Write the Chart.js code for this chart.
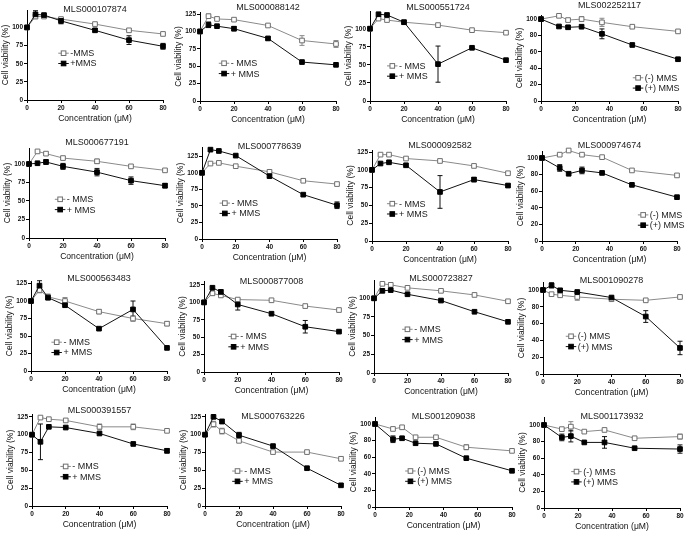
<!DOCTYPE html>
<html>
<head>
<meta charset="utf-8">
<script src="https://cdn.jsdelivr.net/npm/chart.js@4.4.1/dist/chart.umd.min.js"></script>
<style>
html, body { margin: 0; padding: 0; background: #fff; overflow: hidden; }
#wrap { position: relative; width: 687px; height: 535px; overflow: hidden; background: #fff; }
#wrap canvas { position: absolute; }
</style>
</head>
<body>
<div id="wrap"></div>
<script>
// compound names, one per panel (row by row)
const titles = [
  'MLS000107874', 'MLS000088142', 'MLS000551724', 'MLS002252117',
  'MLS000677191', 'MLS000778639', 'MLS000092582', 'MLS000974674',
  'MLS000563483', 'MLS000877008', 'MLS000723827', 'MLS001090278',
  'MLS000391557', 'MLS000763226', 'MLS001209038', 'MLS001173932'
];

// concentrations (uM)
const concA = [0, 5, 10, 20, 40, 60, 80];
const concB = [0, 10.5, 15.8, 23.7, 35.6, 53.3, 80];
const panelConc = [concA, concA, concA, concB, concA, concA, concA, concB,
                   concA, concA, concA, concA, concA, concA, concB, concB];

const xTicks = [0, 20, 40, 60, 80];
const yTicks25 = [0, 25, 50, 75, 100, 125];
const yTicks20 = [0, 20, 40, 60, 80, 100];
const yMax = [124, 128, 124.5, 105, 121.6, 139, 128, 108.4,
              128.6, 130.7, 124.5, 109.5, 129, 129, 108.4, 109.6];

const legendSets = [['-MMS', '+MMS'], ['- MMS', '+ MMS'], ['(-) MMS', '(+) MMS']];
const legendKind = [0, 1, 1, 2, 1, 1, 1, 2, 1, 1, 1, 2, 1, 1, 2, 2];

// cell viability (%) without MMS
const minusMMS = [
  [100, 115, 115, 111.5, 104.6, 96, 91],
  [100, 122, 118, 117, 108.6, 87, 82],
  [100, 114, 112, 109, 105, 98, 94.5],
  [100, 104, 98.8, 100, 96, 90.7, 85],
  [100, 117, 114, 108, 103.6, 96.8, 91.4],
  [100, 114, 115, 110, 101.5, 88, 83],
  [100, 121.5, 121.5, 116, 112.6, 105.6, 95.3],
  [100, 104, 109, 104, 101, 85, 79],
  [100, 115.7, 106, 100, 84.8, 75, 67.6],
  [100, 113, 110, 104, 103, 94.7, 89],
  [100, 119.4, 118, 114, 110, 104.5, 96],
  [100, 95, 93.7, 91.7, 89, 87.7, 91.7],
  [100, 124, 121.7, 120, 111, 111, 105.4],
  [100, 114.7, 105, 91.4, 75.6, 75.6, 66.2],
  [100, 94, 96, 84, 84, 72, 67.6],
  [100, 95, 98, 92, 94, 84, 86]
];
const minusErr = [
  [0, 3, 2, 1, 1, 1, 1],
  [0, 3, 0, 0, 0, 7, 5],
  [0, 0, 0, 0, 0, 0, 0],
  [0, 0, 2, 3, 5, 0, 0],
  [0, 0, 2, 2, 3, 0, 1],
  [0, 0, 0, 0, 0, 0, 0],
  [0, 0, 0, 0, 0, 0, 0],
  [0, 0, 0, 0, 0, 0, 0],
  [0, 4, 4, 5, 3, 4, 3],
  [0, 3, 0, 0, 0, 0, 0],
  [0, 0, 0, 0, 0, 0, 0],
  [0, 0, 0, 4, 0, 0, 0],
  [0, 0, 0, 0, 4, 4, 0],
  [0, 4, 4, 0, 0, 0, 0],
  [0, 0, 0, 0, 0, 3, 0],
  [0, 0, 6, 0, 0, 0, 3]
];

// cell viability (%) with MMS
const plusMMS = [
  [100, 118, 117, 109, 96, 82.5, 74],
  [100, 109.6, 107.6, 104, 90, 56, 52],
  [100, 120, 119, 109, 51, 73.6, 56.5],
  [100, 91, 90, 90.7, 82, 68.4, 51],
  [100, 101, 102.7, 96.8, 89, 77.5, 70.7],
  [100, 135, 133, 126, 95, 67, 51],
  [100, 109, 110.7, 106.5, 69, 86.4, 78],
  [100, 88, 81, 85, 82, 67.6, 52.8],
  [100, 122, 104.8, 94, 60.5, 88, 33],
  [100, 121, 115, 97, 83.7, 65, 58],
  [100, 110, 111, 105.4, 97, 82, 68.5],
  [100, 105.5, 99.6, 97.6, 91, 68.4, 31],
  [100, 90, 111, 110, 101.7, 87, 77.4],
  [100, 125, 118.5, 99.3, 84, 53, 29],
  [100, 81.6, 82.8, 76.8, 76, 58.8, 43.6],
  [100, 85, 86.6, 79, 79, 72, 71]
];
const plusErr = [
  [0, 5, 2, 4, 2, 6, 4],
  [0, 4, 0, 3, 2, 0, 0],
  [0, 0, 0, 0, 25, 0, 0],
  [0, 0, 2, 0, 6, 0, 2],
  [0, 0, 3, 4, 5, 5, 3],
  [0, 0, 0, 0, 2, 0, 5],
  [0, 0, 0, 0, 23, 3, 2],
  [0, 4, 0, 4, 0, 0, 0],
  [0, 7, 3, 0, 0, 12, 0],
  [0, 0, 3, 8, 0, 9, 0],
  [0, 0, 0, 0, 0, 0, 0],
  [0, 3, 0, 0, 0, 7, 8],
  [0, 25, 0, 0, 0, 0, 3],
  [0, 0, 3, 4, 0, 0, 0],
  [0, 4, 0, 0, 0, 0, 0],
  [0, 4, 7, 0, 7, 0, 5]
];

// page layout: plot box [left, right, top, bottom], title y, legend spot (fraction of plot)
const boxes = [
  [27, 163, 10, 100], [200, 336, 12, 101], [370, 506, 11, 101], [541, 678, 15, 101],
  [29, 165, 148, 238], [202, 337, 147, 239], [372, 508, 150, 241], [542, 677, 151, 241],
  [31, 167, 281, 371], [204, 339, 281, 372], [374, 508, 280, 373], [543, 680, 282, 374],
  [32, 167, 414, 506], [205, 341, 414, 506], [375, 512, 417, 507], [544, 680, 417, 508]
];
const titleY = [9.3, 7.5, 8, 6, 143, 147, 146, 146, 279, 282, 279, 281, 411, 416.7, 416.7, 416.7];
const legendPos = [
  [0.23, 0.48], [0.138, 0.576], [0.125, 0.61], [0.67, 0.73],
  [0.19, 0.57], [0.13, 0.61], [0.11, 0.59], [0.71, 0.71],
  [0.15, 0.68], [0.18, 0.61], [0.21, 0.53], [0.166, 0.59],
  [0.21, 0.57], [0.2, 0.62], [0.22, 0.6], [0.2, 0.6]
];

const FONT = '"Liberation Sans", Arial, sans-serif';
const AXW = 26, AXH = 24, PADR = 8, PADB = 2;

// error bars, panel title and the small legend inside the plot
const panelDecor = {
  id: 'panelDecor',
  beforeDatasetsDraw(chart) {
    const ctx = chart.ctx, ys = chart.scales.y;
    chart.data.datasets.forEach((ds, i) => {
      const meta = chart.getDatasetMeta(i);
      ctx.save();
      ctx.strokeStyle = ds.borderColor;
      ctx.lineWidth = 1;
      ds.errors.forEach((e, j) => {
        if (!e) return;
        const x = meta.data[j].x, v = ds.data[j].y;
        const y1 = ys.getPixelForValue(v + e), y2 = ys.getPixelForValue(v - e);
        ctx.beginPath();
        ctx.moveTo(x, y1); ctx.lineTo(x, y2);
        ctx.moveTo(x - 2.5, y1); ctx.lineTo(x + 2.5, y1);
        ctx.moveTo(x - 2.5, y2); ctx.lineTo(x + 2.5, y2);
        ctx.stroke();
      });
      ctx.restore();
    });
  },
  afterDraw(chart, args, o) {
    const ctx = chart.ctx, ca = chart.chartArea;
    ctx.save();
    ctx.fillStyle = '#1a1a1a';
    ctx.font = '9px ' + FONT;
    ctx.textAlign = 'center';
    ctx.textBaseline = 'middle';
    ctx.fillText(o.title, (ca.left + ca.right) / 2, o.titleY);

    const lx = ca.left + o.legX * (ca.right - ca.left);
    const ly = ca.top + o.legY * (ca.bottom - ca.top);
    ctx.textAlign = 'left';
    chart.data.datasets.forEach((ds, i) => {
      const y = ly + i * 10.3;
      ctx.strokeStyle = ds.borderColor;
      ctx.lineWidth = 1;
      ctx.beginPath();
      ctx.moveTo(lx, y); ctx.lineTo(lx + 10.5, y);
      ctx.stroke();
      ctx.fillStyle = ds.pointBackgroundColor;
      ctx.strokeStyle = ds.pointBorderColor;
      ctx.fillRect(lx + 3, y - 2.3, 4.6, 4.6);
      ctx.strokeRect(lx + 3, y - 2.3, 4.6, 4.6);
      ctx.fillStyle = '#1a1a1a';
      ctx.fillText(ds.label, lx + 12, y + 0.5);
    });
    ctx.restore();
  }
};

const wrap = document.getElementById('wrap');

titles.forEach((title, i) => {
  const [L, R, T, B] = boxes[i];
  const top = Math.floor(titleY[i] - 8);
  const padT = T - top;
  const w = AXW + (R - L) + PADR;
  const h = padT + (B - T) + AXH + PADB;

  const cv = document.createElement('canvas');
  cv.width = w; cv.height = h;
  cv.style.width = w + 'px'; cv.style.height = h + 'px';
  cv.style.left = (L - AXW) + 'px';
  cv.style.top = top + 'px';
  wrap.appendChild(cv);

  const conc = panelConc[i];
  const names = legendSets[legendKind[i]];
  const yt = legendKind[i] === 2 ? yTicks20 : yTicks25;

  new Chart(cv, {
    type: 'line',
    data: {
      datasets: [
        {
          label: names[0],
          data: conc.map((x, j) => ({ x: x, y: minusMMS[i][j] })),
          errors: minusErr[i],
          order: 1,
          borderColor: '#8a8a8a',
          borderWidth: 1,
          pointStyle: 'rect',
          pointRadius: 3.3,
          pointBackgroundColor: '#ffffff',
          pointBorderColor: '#6e6e6e',
          pointBorderWidth: 1,
          clip: false
        },
        {
          label: names[1],
          data: conc.map((x, j) => ({ x: x, y: plusMMS[i][j] })),
          errors: plusErr[i],
          order: 0,
          borderColor: '#111111',
          borderWidth: 1,
          pointStyle: 'rect',
          pointRadius: 3.3,
          pointBackgroundColor: '#000000',
          pointBorderColor: '#000000',
          pointBorderWidth: 1,
          clip: false
        }
      ]
    },
    options: {
      responsive: false,
      animation: false,
      devicePixelRatio: 1,
      layout: { padding: { left: 0, top: padT, right: PADR, bottom: PADB } },
      plugins: {
        legend: { display: false },
        tooltip: { enabled: false },
        panelDecor: {
          title: title,
          titleY: titleY[i] - top,
          legX: legendPos[i][0],
          legY: legendPos[i][1]
        }
      },
      scales: {
        x: {
          type: 'linear',
          min: 0,
          max: 80,
          afterBuildTicks: s => { s.ticks = xTicks.map(v => ({ value: v })); },
          afterFit: s => { s.height = AXH; },
          grid: { display: true, drawOnChartArea: false, drawTicks: true, tickLength: 3, color: '#000' },
          border: { display: true, color: '#000', width: 1 },
          ticks: { font: { size: 6.5, weight: 'bold', family: FONT }, color: '#111', padding: 1, maxRotation: 0 },
          title: { display: true, text: 'Concentration (\u03bcM)', font: { size: 8.6, family: FONT }, color: '#111', padding: 0 }
        },
        y: {
          type: 'linear',
          min: 0,
          max: yMax[i],
          afterBuildTicks: s => { s.ticks = yt.filter(v => v <= yMax[i]).map(v => ({ value: v })); },
          afterFit: s => { s.width = AXW; },
          grid: { display: true, drawOnChartArea: false, drawTicks: true, tickLength: 3, color: '#000' },
          border: { display: true, color: '#000', width: 1 },
          ticks: { font: { size: 6.5, weight: 'bold', family: FONT }, color: '#111', padding: 1 },
          title: { display: true, text: 'Cell viability (%)', font: { size: 8.5, family: FONT }, color: '#111', padding: 0 }
        }
      }
    },
    plugins: [panelDecor]
  });
});
</script>
</body>
</html>
